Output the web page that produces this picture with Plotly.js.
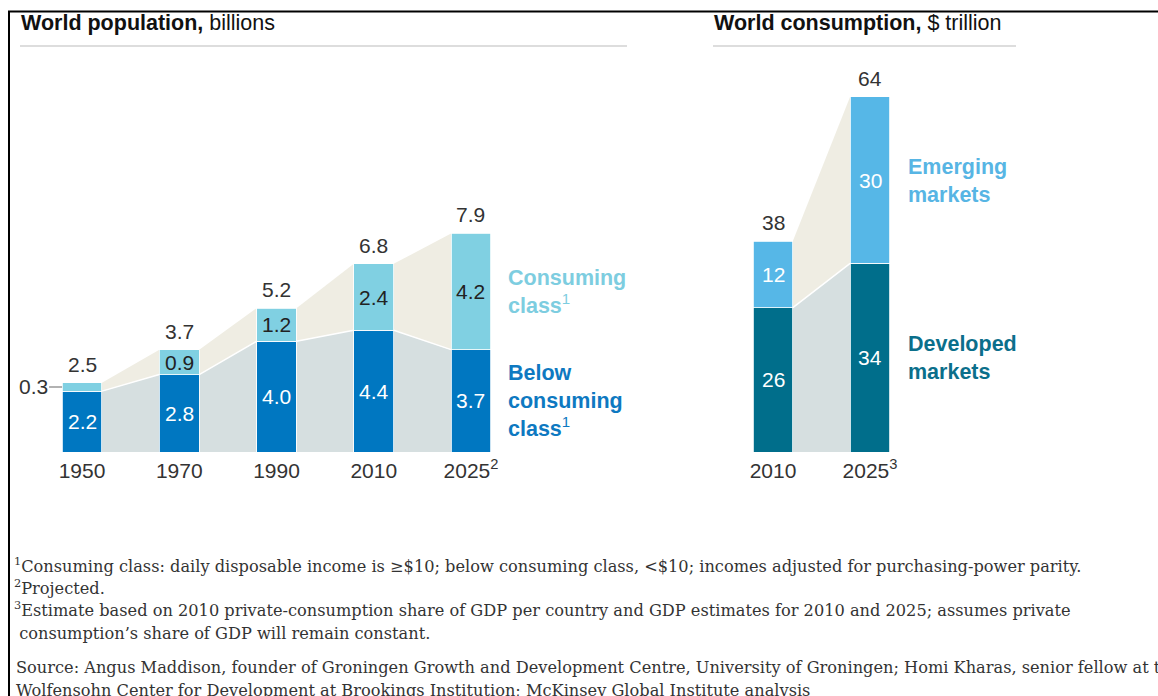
<!DOCTYPE html>
<html>
<head>
<meta charset="utf-8">
<script src="https://cdn.plot.ly/plotly-3.0.1.min.js"></script>
<style>
  html, body { margin: 0; padding: 0; background: #fff; }
  #chart { width: 1158px; height: 696px; }
</style>
</head>
<body>
<div id="chart"></div>
<script>
// ---------- Data ----------
const popYears = ['1950', '1970', '1990', '2010', '2025'];
const popYearLabels = ['1950', '1970', '1990', '2010', '2025<sup>2</sup>'];
const belowConsuming = [2.2, 2.8, 4.0, 4.4, 3.7];
const consumingClass = [0.3, 0.9, 1.2, 2.4, 4.2];
const popTotals = [2.5, 3.7, 5.2, 6.8, 7.9];

const consYears = ['2010', '2025'];
const consYearLabels = ['2010', '2025<sup>3</sup>'];
const developedMarkets = [26, 34];
const emergingMarkets = [12, 30];
const consTotals = [38, 64];

const footnotes = [
  '<sup>1</sup>Consuming class: daily disposable income is ≥$10; below consuming class, <$10; incomes adjusted for purchasing-power parity.',
  '<sup>2</sup>Projected.',
  '<sup>3</sup>Estimate based on 2010 private-consumption share of GDP per country and GDP estimates for 2010 and 2025; assumes private',
  ' consumption’s share of GDP will remain constant.',
  'Source: Angus Maddison, founder of Groningen Growth and Development Centre, University of Groningen; Homi Kharas, senior fellow at the',
  'Wolfensohn Center for Development at Brookings Institution; McKinsey Global Institute analysis'
];

// ---------- Styling ----------
const W = 1158, H = 696;
const px = v => v / W;
const py = v => 1 - v / H;
const SANS = 'Liberation Sans, Arial, Helvetica, sans-serif';
const SERIF = 'DejaVu Serif, Georgia, serif';
const BW = 0.41;

const C = {
  below: '#0077c1', consuming: '#80d0e2',
  developed: '#006e8b', emerging: '#56b7e7',
  gray: '#d6dfe0', beige: '#efede3'
};

const idx = arr => arr.map((_, i) => i);

const traces = [
  { type: 'bar', x: idx(popYears), y: belowConsuming, width: BW, xaxis: 'x', yaxis: 'y',
    marker: { color: C.below, line: { color: '#ffffff', width: 0.8 } }, hoverinfo: 'skip' },
  { type: 'bar', x: idx(popYears), y: consumingClass, width: BW, xaxis: 'x', yaxis: 'y',
    marker: { color: C.consuming, line: { color: '#ffffff', width: 0.8 } }, hoverinfo: 'skip' },
  { type: 'bar', x: idx(consYears), y: developedMarkets, width: BW, xaxis: 'x2', yaxis: 'y2',
    marker: { color: C.developed, line: { color: '#ffffff', width: 0.8 } }, hoverinfo: 'skip' },
  { type: 'bar', x: idx(consYears), y: emergingMarkets, width: BW, xaxis: 'x2', yaxis: 'y2',
    marker: { color: C.emerging, line: { color: '#ffffff', width: 0.8 } }, hoverinfo: 'skip' }
];

function areaShapes(lower, total, xr, yr) {
  const out = [];
  for (let i = 0; i < lower.length - 1; i++) {
    const r = i + BW / 2, l = i + 1 - BW / 2;
    out.push({ type: 'path', xref: xr, yref: yr, layer: 'below',
      path: `M${r},0 L${r},${lower[i]} L${l},${lower[i + 1]} L${l},0 Z`,
      fillcolor: C.gray, line: { width: 0 } });
    out.push({ type: 'path', xref: xr, yref: yr, layer: 'below',
      path: `M${r},${lower[i]} L${r},${total[i]} L${l},${total[i + 1]} L${l},${lower[i + 1]} Z`,
      fillcolor: C.beige, line: { width: 0 } });
    out.push({ type: 'path', xref: xr, yref: yr, layer: 'below',
      path: `M${r},${lower[i]} L${l},${lower[i + 1]}`,
      line: { color: '#ffffff', width: 1.5 } });
  }
  return out;
}

const shapes = [
  ...areaShapes(belowConsuming, popTotals, 'x', 'y'),
  ...areaShapes(developedMarkets, consTotals, 'x2', 'y2'),
  // title rules
  { type: 'line', xref: 'paper', yref: 'paper', x0: px(20), x1: px(627), y0: py(46), y1: py(46),
    line: { color: '#dddddd', width: 2 } },
  { type: 'line', xref: 'paper', yref: 'paper', x0: px(713), x1: px(1016), y0: py(46), y1: py(46),
    line: { color: '#dddddd', width: 2 } },
  // frame
  { type: 'rect', xref: 'paper', yref: 'paper', x0: px(9), x1: 1.05, y0: -0.05, y1: py(11.5),
    line: { color: '#000000', width: 2 }, fillcolor: 'rgba(0,0,0,0)' }
];

const annotations = [];
const valFont = (color) => ({ family: SANS, size: 21, color: color });

popYears.forEach((_, i) => {
  annotations.push({ xref: 'x', yref: 'y', x: i, y: belowConsuming[i] / 2, text: belowConsuming[i].toFixed(1),
    showarrow: false, font: valFont('#ffffff') });
  if (consumingClass[i] < 0.5) {
    annotations.push({ xref: 'x', yref: 'y', x: i - BW / 2, y: belowConsuming[i] + consumingClass[i] / 2,
      text: consumingClass[i].toFixed(1), showarrow: true, arrowhead: 0, arrowwidth: 1.2, arrowcolor: '#666',
      ax: -29, ay: 0, standoff: 0, font: valFont('#333333') });
  } else {
    annotations.push({ xref: 'x', yref: 'y', x: i, y: belowConsuming[i] + consumingClass[i] / 2,
      text: consumingClass[i].toFixed(1), showarrow: false, font: valFont('#222222') });
  }
  annotations.push({ xref: 'x', yref: 'y', x: i, y: popTotals[i], text: popTotals[i].toFixed(1),
    yanchor: 'bottom', yshift: 5, showarrow: false, font: valFont('#333333') });
});

consYears.forEach((_, i) => {
  annotations.push({ xref: 'x2', yref: 'y2', x: i, y: developedMarkets[i] / 2, text: String(developedMarkets[i]),
    showarrow: false, font: valFont('#ffffff') });
  annotations.push({ xref: 'x2', yref: 'y2', x: i, y: developedMarkets[i] + emergingMarkets[i] / 2,
    text: String(emergingMarkets[i]), showarrow: false, font: valFont('#ffffff') });
  annotations.push({ xref: 'x2', yref: 'y2', x: i, y: consTotals[i], text: String(consTotals[i]),
    yanchor: 'bottom', yshift: 5, showarrow: false, font: valFont('#333333') });
});

// titles
annotations.push({ xref: 'paper', yref: 'paper', x: px(19), y: py(23), xanchor: 'left', yanchor: 'middle',
  text: '<b>World population,</b> billions', showarrow: false, font: { family: SANS, size: 21.5, color: '#111' } });
annotations.push({ xref: 'paper', yref: 'paper', x: px(712), y: py(23), xanchor: 'left', yanchor: 'middle',
  text: '<b>World consumption,</b> $ trillion', showarrow: false, font: { family: SANS, size: 21.5, color: '#111' } });

// series labels
const seriesLabel = (x, y, text, color) => ({ xref: 'paper', yref: 'paper', x: px(x), y: py(y),
  xanchor: 'left', yanchor: 'middle', align: 'left', text: text, showarrow: false,
  font: { family: SANS, size: 21.5, color: color } });
annotations.push(seriesLabel(506, 292, '<b>Consuming<br>class</b><sup>1</sup>', '#7dcde0'));
annotations.push(seriesLabel(506, 401, '<b>Below<br>consuming<br>class</b><sup>1</sup>', '#0e79c1'));
annotations.push(seriesLabel(906, 181, '<b>Emerging<br>markets</b>', '#57b5e4'));
annotations.push(seriesLabel(906, 358, '<b>Developed<br>markets</b>', '#0b6f8b'));

// footnotes
const footY = [565, 587, 609, 633, 667, 690];
const footX = [12, 12, 12, 12, 14, 14];
footnotes.forEach((t, i) => {
  annotations.push({ xref: 'paper', yref: 'paper', x: px(footX[i]), y: py(footY[i]), xanchor: 'left', yanchor: 'middle',
    align: 'left', text: t, showarrow: false, font: { family: SERIF, size: 16.2, color: '#333333' } });
});

const axisCommon = { showgrid: false, zeroline: false, showline: false, ticks: '', fixedrange: true };

const layout = {
  width: W, height: H,
  margin: { l: 0, r: 0, t: 0, b: 0 },
  paper_bgcolor: '#ffffff', plot_bgcolor: 'rgba(0,0,0,0)',
  barmode: 'stack', showlegend: false,
  font: { family: SANS },
  xaxis: { ...axisCommon, domain: [px(33.4), px(519.6)], range: [-0.5, 4.5],
    tickvals: idx(popYears), ticktext: popYearLabels, tickfont: { family: SANS, size: 21, color: '#333' },
    ticklabelstandoff: 4, anchor: 'y' },
  yaxis: { ...axisCommon, domain: [py(452), py(203)], range: [0, 9], showticklabels: false, anchor: 'x' },
  xaxis2: { ...axisCommon, domain: [px(724.5), px(918.5)], range: [-0.5, 1.5],
    tickvals: idx(consYears), ticktext: consYearLabels, tickfont: { family: SANS, size: 21, color: '#333' },
    ticklabelstandoff: 4, anchor: 'y2' },
  yaxis2: { ...axisCommon, domain: [py(452), py(63.5)], range: [0, 70], showticklabels: false, anchor: 'x2' },
  shapes: shapes,
  annotations: annotations
};

Plotly.newPlot('chart', traces, layout, { staticPlot: true, displayModeBar: false });
</script>
</body>
</html>
